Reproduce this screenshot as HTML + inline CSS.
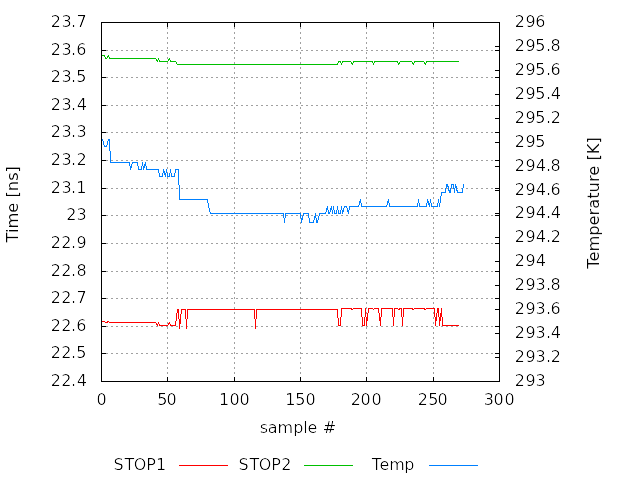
<!DOCTYPE html>
<html><head><meta charset="utf-8"><title>plot</title>
<style>html,body{margin:0;padding:0;background:#fff;overflow:hidden;}svg{display:block;}
text{font-family:"DejaVu Sans","Liberation Sans",sans-serif;font-size:16px;fill:#000;}
.r{font-size:16.25px;}</style></head>
<body><svg width="640" height="480" viewBox="0 0 640 480">
<rect width="640" height="480" fill="#fff"/>
<g shape-rendering="crispEdges" stroke-width="1">
<path d="M101 50.5H500M101 77.5H500M101 105.5H500M101 132.5H500M101 160.5H500M101 188.5H500M101 215.5H500M101 243.5H500M101 271.5H500M101 298.5H500M101 326.5H500M101 353.5H500M167.5 22V382M234.5 22V382M300.5 22V382M366.5 22V382M433.5 22V382" stroke="#a0a0a0" stroke-dasharray="2 3" fill="none"/>
<path d="M101.5 321.5L104.5 321.5L105.5 322.5L106.5 322.5L108.5 321.5L109.5 322.5L155.5 322.5L157.5 325.5L158.5 322.5L159.5 325.5L167.5 325.5L169.5 322.5L170.5 325.5L175.5 325.5L177.5 309.5L178.5 309.5L179.5 328.5L181.5 309.5L185.5 309.5L186.5 328.5L187.5 309.5L254.5 309.5L255.5 328.5L256.5 309.5L337.5 309.5L338.5 325.5L340.5 325.5L341.5 308.5L350.5 308.5L352.5 309.5L353.5 308.5L361.5 308.5L362.5 325.5L364.5 325.5L365.5 308.5L366.5 325.5L368.5 308.5L372.5 308.5L373.5 309.5L374.5 308.5L378.5 308.5L380.5 325.5L381.5 308.5L392.5 308.5L393.5 325.5L394.5 308.5L397.5 308.5L398.5 309.5L400.5 308.5L401.5 308.5L402.5 325.5L403.5 308.5L411.5 308.5L413.5 309.5L414.5 308.5L423.5 308.5L425.5 309.5L426.5 308.5L434.5 308.5L435.5 325.5L437.5 308.5L438.5 308.5L439.5 325.5L441.5 308.5L442.5 325.5L458.5 325.5" stroke="#ff0000" fill="none" stroke-linejoin="bevel" stroke-linecap="square"/>
<path d="M101.5 55.5L104.5 55.5L105.5 58.5L106.5 58.5L108.5 55.5L109.5 58.5L155.5 58.5L157.5 61.5L158.5 58.5L159.5 61.5L167.5 61.5L169.5 58.5L170.5 61.5L175.5 61.5L177.5 64.5L337.5 64.5L338.5 61.5L340.5 61.5L341.5 64.5L342.5 61.5L350.5 61.5L352.5 64.5L353.5 61.5L372.5 61.5L373.5 64.5L374.5 61.5L397.5 61.5L398.5 64.5L400.5 61.5L411.5 61.5L413.5 64.5L414.5 61.5L423.5 61.5L425.5 64.5L426.5 61.5L458.5 61.5" stroke="#00c000" fill="none" stroke-linejoin="bevel" stroke-linecap="square"/>
<path d="M101.5 139.5L102.5 139.5L104.5 146.5L106.5 146.5L108.5 139.5L109.5 139.5L110.5 162.5L129.5 162.5L130.5 169.5L132.5 162.5L137.5 162.5L138.5 169.5L141.5 169.5L142.5 162.5L143.5 169.5L145.5 162.5L146.5 169.5L158.5 169.5L159.5 176.5L162.5 176.5L163.5 169.5L165.5 176.5L166.5 169.5L167.5 176.5L169.5 176.5L170.5 169.5L171.5 176.5L174.5 176.5L175.5 169.5L178.5 169.5L179.5 199.5L207.5 199.5L208.5 206.5L210.5 213.5L283.5 213.5L284.5 222.5L285.5 213.5L300.5 213.5L301.5 222.5L303.5 213.5L308.5 213.5L309.5 222.5L313.5 222.5L315.5 213.5L316.5 222.5L317.5 222.5L319.5 213.5L325.5 213.5L327.5 206.5L328.5 213.5L329.5 213.5L331.5 206.5L332.5 213.5L333.5 206.5L334.5 213.5L336.5 213.5L337.5 206.5L338.5 213.5L340.5 213.5L341.5 206.5L342.5 213.5L344.5 206.5L346.5 206.5L348.5 213.5L349.5 206.5L358.5 206.5L360.5 199.5L361.5 206.5L386.5 206.5L388.5 199.5L389.5 206.5L417.5 206.5L418.5 199.5L419.5 206.5L426.5 206.5L427.5 199.5L429.5 206.5L430.5 199.5L431.5 206.5L437.5 206.5L438.5 199.5L439.5 206.5L441.5 192.5L445.5 192.5L446.5 184.5L447.5 184.5L449.5 192.5L450.5 192.5L451.5 184.5L453.5 184.5L454.5 192.5L455.5 184.5L457.5 192.5L462.5 192.5L463.5 184.5" stroke="#0080ff" fill="none" stroke-linejoin="bevel" stroke-linecap="square"/>
<path d="M101 22.5h5M500 22.5h-5M101 50.5h5M500 50.5h-5M101 77.5h5M500 77.5h-5M101 105.5h5M500 105.5h-5M101 132.5h5M500 132.5h-5M101 160.5h5M500 160.5h-5M101 188.5h5M500 188.5h-5M101 215.5h5M500 215.5h-5M101 243.5h5M500 243.5h-5M101 271.5h5M500 271.5h-5M101 298.5h5M500 298.5h-5M101 326.5h5M500 326.5h-5M101 353.5h5M500 353.5h-5M101 381.5h5M500 381.5h-5M500 22.5h-5M500 46.5h-5M500 70.5h-5M500 94.5h-5M500 118.5h-5M500 142.5h-5M500 166.5h-5M500 190.5h-5M500 213.5h-5M500 237.5h-5M500 261.5h-5M500 285.5h-5M500 309.5h-5M500 333.5h-5M500 357.5h-5M500 381.5h-5M101.5 382v-5M101.5 22v5M167.5 382v-5M167.5 22v5M234.5 382v-5M234.5 22v5M300.5 382v-5M300.5 22v5M366.5 382v-5M366.5 22v5M433.5 382v-5M433.5 22v5M499.5 382v-5M499.5 22v5" stroke="#000" fill="none"/>
<rect x="101.5" y="22.5" width="398" height="359" stroke="#000" fill="none"/>
<path d="M179 465.5h49" stroke="#ff0000"/>
<path d="M304 465.5h49" stroke="#00c000"/>
<path d="M429 465.5h49" stroke="#0080ff"/>
</g>
<defs><filter id="tg" color-interpolation-filters="sRGB"><feComponentTransfer><feFuncA type="gamma" amplitude="1" exponent="2.2" offset="0"/></feComponentTransfer></filter>
<filter id="tr" color-interpolation-filters="sRGB"><feComponentTransfer><feFuncA type="gamma" amplitude="1" exponent="1.5" offset="0"/></feComponentTransfer></filter></defs>
<g filter="url(#tr)">
<text class="r" transform="translate(18 204.25) rotate(-90)" text-anchor="middle">Time [ns]</text>
<text class="r" transform="translate(599 202.95) rotate(-90)" text-anchor="middle">Temperature [K]</text>
</g>
<g filter="url(#tg)">
<text x="50.75 61.5 71 76.5" y="27">23.7</text>
<text x="50.75 61.5 71 76.25" y="55">23.6</text>
<text x="50.75 61.5 71 76.25" y="82">23.5</text>
<text x="50.75 61.5 71 76.75" y="110">23.4</text>
<text x="50.75 61.5 71 76.5" y="137">23.3</text>
<text x="50.75 61.5 71 76.5" y="165">23.2</text>
<text x="50.75 61.5 71 76.25" y="193">23.1</text>
<text x="66.25 76.5" y="220">23</text>
<text x="50.75 61.25 71 76.5" y="248">22.9</text>
<text x="50.75 61.25 71 76.5" y="276">22.8</text>
<text x="50.75 61.25 71 76.5" y="303">22.7</text>
<text x="50.75 61.25 71 76.25" y="331">22.6</text>
<text x="50.75 61.25 71 76.25" y="358">22.5</text>
<text x="50.75 61.25 71 76.75" y="386">22.4</text>
<text x="514.75 525.5 535.25" y="27">296</text>
<text x="514.75 525.5 535.25 546 550.5" y="51">295.8</text>
<text x="514.75 525.5 535.25 546 550.5" y="75">295.6</text>
<text x="514.75 525.5 535.25 546 550.75" y="99">295.4</text>
<text x="514.75 525.5 535.25 546 550.75" y="123">295.2</text>
<text x="514.75 525.5 535.25" y="147">295</text>
<text x="514.75 525.5 535.75 546 550.5" y="171">294.8</text>
<text x="514.75 525.5 535.75 546 550.5" y="195">294.6</text>
<text x="514.75 525.5 535.75 546 550.75" y="218">294.4</text>
<text x="514.75 525.5 535.75 546 550.75" y="242">294.2</text>
<text x="514.75 525.5 535.75" y="266">294</text>
<text x="514.75 525.5 535.5 546 550.5" y="290">293.8</text>
<text x="514.75 525.5 535.5 546 550.5" y="314">293.6</text>
<text x="514.75 525.5 535.5 546 550.75" y="338">293.4</text>
<text x="514.75 525.5 535.5 546 550.75" y="362">293.2</text>
<text x="514.75 525.5 535.5" y="386">293</text>
<text x="96.5" y="405">0</text>
<text x="157.25 166.5" y="405">50</text>
<text x="219 229.5 239.5" y="405">100</text>
<text x="285.25 295.25 305.5" y="405">150</text>
<text x="350.75 360.5 371.5" y="405">200</text>
<text x="417.75 428.25 437.5" y="405">250</text>
<text x="483.75 493.5 504.5" y="405">300</text>
<text x="259.75 267.75 277.5 293.25 303.25 307.5 317.75 322.75" y="433">sample #</text>
<text x="113.5 124.5 133.75 146.25 156" y="470">STOP1</text>
<text x="238.5 249.5 258.75 271.25 281.25" y="470">STOP2</text>
<text x="371.75 379.5 389.25 404.25" y="470">Temp</text>
</g>
</svg></body></html>
